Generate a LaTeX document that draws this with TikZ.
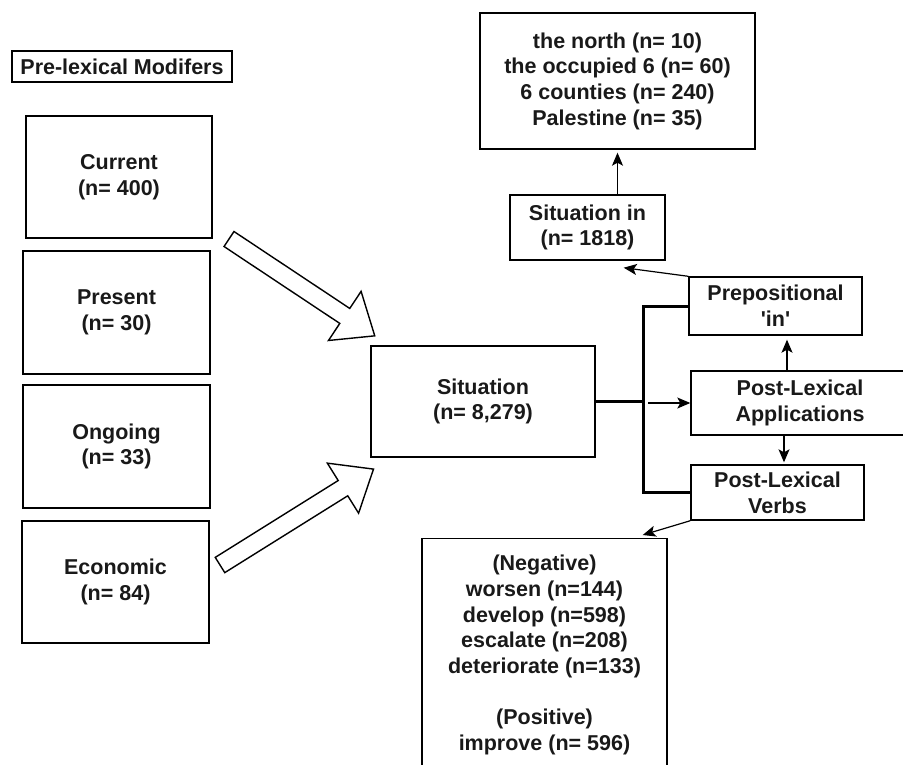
\documentclass[tikz,border=0pt]{standalone}
\usepackage{fontspec}
\setmainfont{Liberation Sans}
\usetikzlibrary{arrows.meta,calc}
\begin{document}
\begin{tikzpicture}[x=1pt,y=-1pt,
  every node/.style={font=\fontsize{21.5}{25.7}\selectfont\bfseries, text=black!90},
  box/.style={draw, line width=1.4pt, align=center, inner sep=0pt},
  link/.style={line width=1.2pt, -{Stealth[length=13pt,width=11pt,inset=3pt]}},
  trunk/.style={line width=3pt, line join=miter},
  bigarrow/.style={draw, line width=1.4pt, fill=white, line join=miter}]
\useasboundingbox (0,0) rectangle (903,764);
\clip (0,0) rectangle (903,764);

% left column: pre-lexical modifiers
\node[box, minimum width=220, minimum height=31] (title) at (122,66.5) {Pre-lexical Modifers};
\node[box, minimum width=186, minimum height=122] (current) at (119,177) {Current\\(n= 400)};
\node[box, minimum width=187, minimum height=123] (present) at (116.5,312.5) {Present\\(n= 30)};
\node[box, minimum width=187, minimum height=123] (ongoing) at (116.5,446.5) {Ongoing\\(n= 33)};
\node[box, minimum width=187, minimum height=122] (economic) at (115.5,582) {Economic\\(n= 84)};

% central node
\node[box, minimum width=224, minimum height=111] (sit) at (483,401.5) {Situation\\(n= 8,279)};

% right side
\node[box, minimum width=173, minimum height=58] (prep) at (775.5,306) {Prepositional\\\textquotesingle in\textquotesingle};
\node[box, minimum width=218, minimum height=64] (app) at (800,403) {Post-Lexical\\Applications};
\node[box, minimum width=173, minimum height=55] (verbs) at (777.5,492.5) {Post-Lexical\\Verbs};
\node[box, minimum width=155, minimum height=65] (sitin) at (587.5,227.5) {Situation in\\(n= 1818)};
\node[box, minimum width=275, minimum height=136] (places) at (617.5,81)
  {the north (n= 10)\\the occupied 6 (n= 60)\\6 counties (n= 240)\\Palestine (n= 35)};

% verb list box (runs past the lower edge)
\node[box, minimum width=245, minimum height=262, anchor=north] (negbox) at (544.5,538) {};
\node[align=center, inner sep=0pt, anchor=north] (neglist) at (544.5,555)
  {(Negative)\\worsen (n=144)\\develop (n=598)\\escalate (n=208)\\deteriorate (n=133)\\[25.7pt](Positive)\\improve (n= 596)};

% hollow block arrows into the central node
\begin{scope}[shift={(229,239)}, rotate=-33.6]
  \draw[bigarrow] (0,-9) -- (139,-9) -- (139,-29.5) -- (175,0) -- (139,29.5) -- (139,9) -- (0,9) -- cycle;
\end{scope}
\begin{scope}[shift={(220,565)}, rotate=32]
  \draw[bigarrow] (0,-9) -- (145,-9) -- (145,-29.5) -- (181,0) -- (145,29.5) -- (145,9) -- (0,9) -- cycle;
\end{scope}

% branching trunk
\coordinate (fork) at (643,401.5);
\draw[trunk] (sit.east) -- (fork);
\draw[trunk] (prep.west) -| (fork) |- (verbs.west);

% thin arrows
\draw[link] ($(fork |- app.west)+(5,0)$) -- (app.west);
\draw[link, shorten >=4pt] ($(app.north)+(-13,0)$) -- ($(prep.south -| app.north)+(-13,0)$);
\draw[link, shorten >=2pt] ($(app.south)+(-16,0)$) -- ($(verbs.north -| app.south)+(-16,0)$);
\draw[link] (prep.north west) -- ($(sitin.south east)+(-42,7)$);
\draw[link, shorten >=3pt] (sitin.north -| places.south) -- (places.south);
\draw[link] (verbs.south west) -- ($(negbox.north east)+(-25,-3)$);
\end{tikzpicture}
\end{document}
